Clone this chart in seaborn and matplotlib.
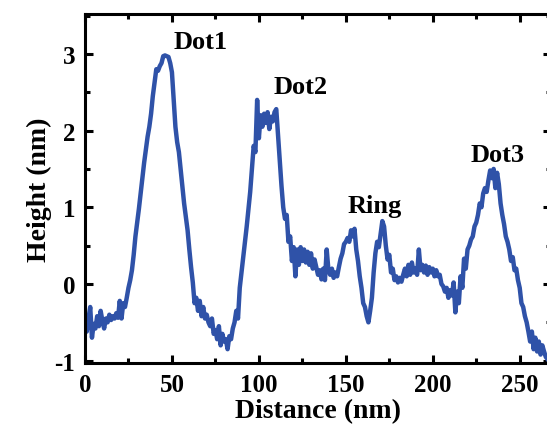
import numpy as np
import pandas as pd
import matplotlib
matplotlib.use("Agg")
import matplotlib.pyplot as plt
from matplotlib.ticker import MultipleLocator
import seaborn as sns

# Height profile sampled every 1 nm along the scan line
distance_nm = list(range(0, 268))
height_nm = [
    -0.50, -0.62, -0.45, -0.30, -0.70, -0.52, -0.58, -0.42, -0.55, -0.35, -0.48,
    -0.58, -0.45, -0.50, -0.40, -0.47, -0.42, -0.45, -0.38, -0.44, -0.22,
    -0.45, -0.25, -0.30, -0.18, -0.05, 0.05, 0.18, 0.38, 0.62, 0.80,
    0.98, 1.18, 1.38, 1.58, 1.75, 1.92, 2.05, 2.22, 2.45, 2.62,
    2.80, 2.78, 2.84, 2.88, 2.97, 2.98, 2.97, 2.96, 2.88, 2.76,
    2.40, 2.05, 1.85, 1.72, 1.50, 1.28, 1.05, 0.88, 0.70, 0.45,
    0.22, 0.02, -0.25, -0.18, -0.35, -0.22, -0.42, -0.30, -0.45, -0.40,
    -0.50, -0.55, -0.45, -0.65, -0.60, -0.72, -0.55, -0.80, -0.65, -0.75,
    -0.72, -0.85, -0.68, -0.72, -0.58, -0.50, -0.35, -0.45, -0.05, 0.15,
    0.35, 0.55, 0.75, 0.98, 1.20, 1.50, 1.80, 1.72, 2.40, 1.90,
    2.20, 2.05, 2.22, 2.10, 2.24, 2.02, 2.18, 2.12, 2.24, 2.28,
    1.95, 1.62, 1.28, 1.00, 0.85, 0.90, 0.55, 0.62, 0.30, 0.48,
    0.10, 0.45, 0.25, 0.48, 0.30, 0.45, 0.28, 0.42, 0.25, 0.40,
    0.20, 0.32, 0.22, 0.12, 0.18, 0.06, 0.20, 0.05, 0.45, 0.18,
    0.12, 0.20, 0.08, 0.15, 0.10, 0.22, 0.33, 0.40, 0.52, 0.55,
    0.60, 0.55, 0.70, 0.62, 0.72, 0.45, 0.30, 0.10, -0.05, -0.25,
    -0.30, -0.42, -0.50, -0.35, -0.18, 0.15, 0.40, 0.55, 0.48, 0.65,
    0.82, 0.75, 0.50, 0.32, 0.38, 0.15, 0.20, 0.05, 0.10, 0.02,
    0.08, 0.03, 0.12, 0.20, 0.10, 0.25, 0.12, 0.28, 0.15, 0.20,
    0.12, 0.45, 0.18, 0.25, 0.15, 0.24, 0.12, 0.22, 0.15, 0.20,
    0.10, 0.18, 0.10, 0.12, 0.00, -0.03, -0.10, -0.05, -0.18, -0.08,
    -0.15, 0.02, -0.37, -0.10, -0.25, 0.10, -0.05, 0.33, 0.20, 0.45,
    0.50, 0.58, 0.62, 0.75, 0.80, 0.90, 1.05, 1.00, 1.18, 1.25,
    1.20, 1.35, 1.48, 1.38, 1.50, 1.25, 1.45, 1.30, 1.05, 0.90,
    0.78, 0.62, 0.55, 0.45, 0.30, 0.35, 0.18, 0.20, 0.05, -0.05,
    -0.25, -0.30, -0.42, -0.50, -0.62, -0.75, -0.62, -0.85, -0.70, -0.88,
    -0.75, -0.92, -0.80, -0.88, -0.95, -0.98, -1.02,
]

feature_labels = ["Dot1", "Dot2", "Ring", "Dot3"]
label_x = [66.5, 124.0, 166.6, 237.3]
label_y = [3.16, 2.57, 1.02, 1.69]

x_ticks = [0, 50, 100, 150, 200, 250]
y_ticks = [-1, 0, 1, 2, 3]

sns.set_theme(style="ticks")
plt.rcParams["font.family"] = ["Liberation Serif", "DejaVu Serif"]
plt.rcParams["font.weight"] = "bold"
plt.rcParams["axes.unicode_minus"] = False
for key in ["text.color", "axes.labelcolor", "xtick.color", "ytick.color",
            "axes.edgecolor"]:
    plt.rcParams[key] = "black"

df = pd.DataFrame({"Distance": distance_nm, "Height": height_nm})

fig = plt.figure(figsize=(5.47, 4.31), dpi=100)
ax = fig.add_axes([85 / 547, (431 - 364) / 431, (551 - 85) / 547, (364 - 15) / 431])

sns.lineplot(data=df, x="Distance", y="Height", ax=ax, color="#2F52A8",
             linewidth=3.2, estimator=None, sort=False)

ax.set_xlim(0, 268)
ax.set_ylim(-1.03, 3.52)
ax.set_xticks(x_ticks)
ax.set_yticks(y_ticks)
ax.xaxis.set_minor_locator(MultipleLocator(25))
ax.yaxis.set_minor_locator(MultipleLocator(0.5))

ax.tick_params(which="both", direction="in", top=True, right=True,
               width=2.2, colors="black", labelsize=18)
ax.tick_params(which="major", length=6, pad=7)
ax.tick_params(which="minor", length=3.5)
for lab in ax.get_xticklabels() + ax.get_yticklabels():
    lab.set_fontweight("bold")

for side in ["left", "right", "top", "bottom"]:
    ax.spines[side].set_linewidth(2.2)
    ax.spines[side].set_color("black")

ax.set_xlabel("Distance (nm)", fontsize=20, fontweight="bold", labelpad=2)
ax.set_ylabel("Height (nm)", fontsize=20, fontweight="bold", labelpad=2)

for text, tx, ty in zip(feature_labels, label_x, label_y):
    ax.text(tx, ty, text, fontsize=19, fontweight="bold",
            ha="center", va="center")

fig.savefig("out.png", dpi=100)
